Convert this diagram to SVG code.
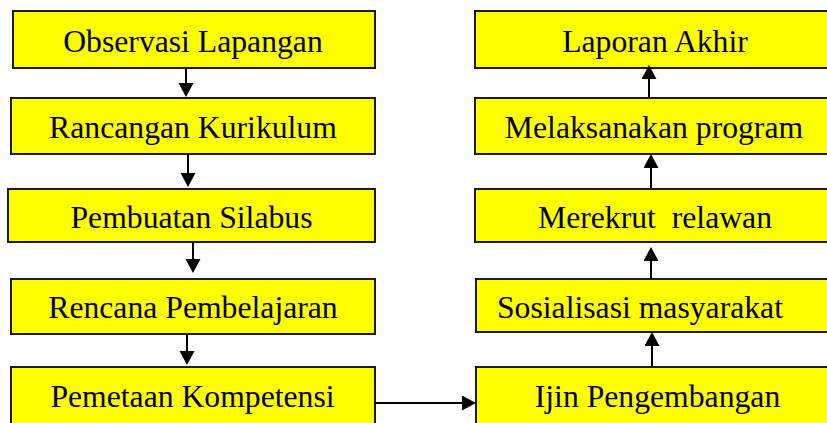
<svg xmlns="http://www.w3.org/2000/svg" width="827" height="423" viewBox="0 0 827 423">
<defs>
<style>
.box{fill:#ffff00;stroke:#1a1a1a;stroke-width:2}
.lbl{font-family:"Liberation Serif","Times New Roman",serif;font-size:31.7px;fill:#000;text-anchor:middle;white-space:pre}
.con{stroke:#000;stroke-width:2;fill:none;marker-end:url(#ah)}
</style>
<marker id="ah" markerUnits="userSpaceOnUse" markerWidth="16" markerHeight="16" refX="10" refY="7.5" orient="auto">
<path d="M0,0 L14,7.5 L0,15 Z" fill="#000"/>
</marker>
</defs>
<rect width="827" height="423" fill="#fff"/>
<g id="n1"><rect class="box" x="13" y="11" width="362" height="57"/><text class="lbl" x="193" y="52">Observasi Lapangan</text></g>
<g id="n2"><rect class="box" x="11" y="98" width="364" height="56"/><text class="lbl" x="193" y="137.5">Rancangan Kurikulum</text></g>
<g id="n3"><rect class="box" x="8" y="189" width="367" height="53"/><text class="lbl" x="191.5" y="227.5">Pembuatan Silabus</text></g>
<g id="n4"><rect class="box" x="11" y="279" width="364" height="55"/><text class="lbl" x="193" y="318">Rencana Pembelajaran</text></g>
<g id="n5"><rect class="box" x="11" y="367" width="364" height="70"/><text class="lbl" x="192.5" y="407">Pemetaan Kompetensi</text></g>
<g id="n6"><rect class="box" x="476" y="367" width="400" height="70"/><text class="lbl" x="657.5" y="407">Ijin Pengembangan</text></g>
<g id="n7"><rect class="box" x="476" y="279" width="400" height="53"/><text class="lbl" x="640" y="318">Sosialisasi masyarakat</text></g>
<g id="n8"><rect class="box" x="475" y="189" width="400" height="53"/><text class="lbl" x="655" y="228">Merekrut  relawan</text></g>
<g id="n9"><rect class="box" x="475" y="98" width="400" height="56"/><text class="lbl" x="654" y="137.5">Melaksanakan program</text></g>
<g id="n10"><rect class="box" x="475" y="11" width="400" height="57"/><text class="lbl" x="655" y="52">Laporan Akhir</text></g>
<g id="connectors">
<line class="con" x1="186" y1="68" x2="186" y2="93"/>
<line class="con" x1="188" y1="154" x2="188" y2="183"/>
<line class="con" x1="193" y1="242" x2="193" y2="269"/>
<line class="con" x1="187" y1="334" x2="187" y2="361"/>
<line class="con" x1="375" y1="403" x2="472" y2="403"/>
<line class="con" x1="652" y1="366" x2="652" y2="336"/>
<line class="con" x1="651" y1="279" x2="651" y2="251"/>
<line class="con" x1="651" y1="188" x2="651" y2="158"/>
<line class="con" x1="649" y1="98" x2="649" y2="69"/>
</g>
</svg>
